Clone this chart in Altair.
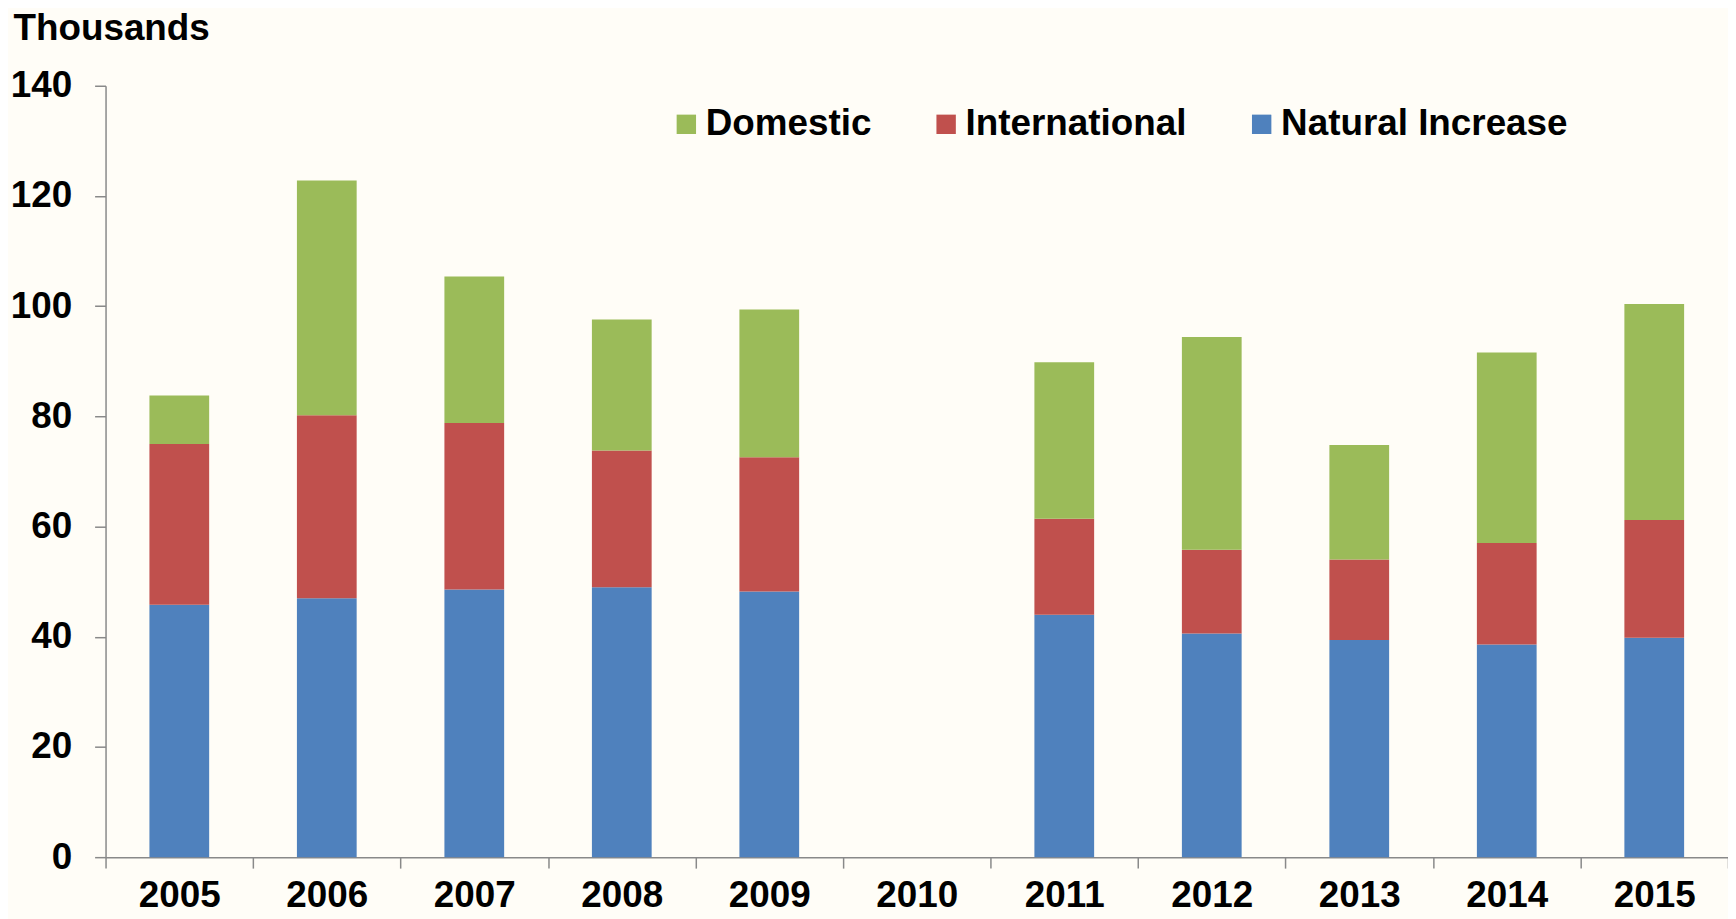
import altair as alt
import pandas as pd

years = ["2005", "2006", "2007", "2008", "2009", "2010", "2011", "2012", "2013", "2014", "2015"]
natural = [45.8, 47.0, 48.6, 49.0, 48.2, None, 44.0, 40.6, 39.4, 38.6, 39.8]
international = [29.2, 33.2, 30.2, 24.8, 24.4, None, 17.4, 15.2, 14.6, 18.4, 21.4]
domestic = [8.8, 42.6, 26.6, 23.8, 26.8, None, 28.4, 38.6, 20.8, 34.6, 39.2]

series = ["Domestic", "International", "Natural Increase"]
colors = ["#9BBB59", "#C0504D", "#4F81BD"]
y_ticks = [0, 20, 40, 60, 80, 100, 120, 140]

rows = []
for i, yr in enumerate(years):
    for name, vals, order in [("Natural Increase", natural, 0),
                              ("International", international, 1),
                              ("Domestic", domestic, 2)]:
        v = vals[i]
        if v is not None:
            rows.append({"year": yr, "series": name, "value": v, "ord": order})
df = pd.DataFrame(rows)

FONT = "Liberation Sans"
AXIS_GRAY = "#898989"

chart = alt.Chart(df).mark_bar(width=alt.RelativeBandSize(0.405)).encode(
    x=alt.X(
        "year:N",
        scale=alt.Scale(domain=years, paddingInner=0, paddingOuter=0),
        axis=alt.Axis(
            title=None, labelAngle=0, tickBand="extent", tickSize=11,
            labelPadding=10, labelFont=FONT, labelFontSize=37, labelFontWeight="bold",
            labelColor="black", domainColor=AXIS_GRAY, tickColor=AXIS_GRAY,
            domainWidth=1.5, tickWidth=1.5, grid=False, labelLimit=300,
        ),
    ),
    y=alt.Y(
        "value:Q",
        stack="zero",
        scale=alt.Scale(domain=[0, 140], nice=False),
        axis=alt.Axis(
            values=y_ticks, title="Thousands", titleAngle=0, titleX=-93, titleY=-46,
            titleAlign="left", titleBaseline="alphabetic", titleFont=FONT,
            titleFontSize=37, titleFontWeight="bold", titleColor="black",
            tickSize=11, labelPadding=23, labelFont=FONT, labelFontSize=37,
            labelFontWeight="bold", labelColor="black", domainColor=AXIS_GRAY,
            tickColor=AXIS_GRAY, domainWidth=1.5, tickWidth=1.5, grid=False,
        ),
    ),
    color=alt.Color(
        "series:N",
        scale=alt.Scale(domain=series, range=colors),
        legend=alt.Legend(
            orient="none", legendX=565, legendY=20, direction="horizontal", title=None,
            symbolType="square", symbolSize=380, symbolStrokeWidth=0, symbolOpacity=1,
            labelFont=FONT, labelFontSize=37, labelFontWeight="bold", labelColor="black",
            labelOffset=1, columnPadding=56, padding=0, labelLimit=500,
        ),
    ),
    order=alt.Order("ord:Q", sort="ascending"),
).properties(
    width=1630,
    height=775,
    background="#FFFDF7",
    padding={"left": 98, "top": 76, "right": 0, "bottom": 60},
    autosize=alt.AutoSizeParams(type="none"),
).configure_view(stroke=None)

chart.save("out.html", embed_options={"renderer": "svg", "actions": False})
